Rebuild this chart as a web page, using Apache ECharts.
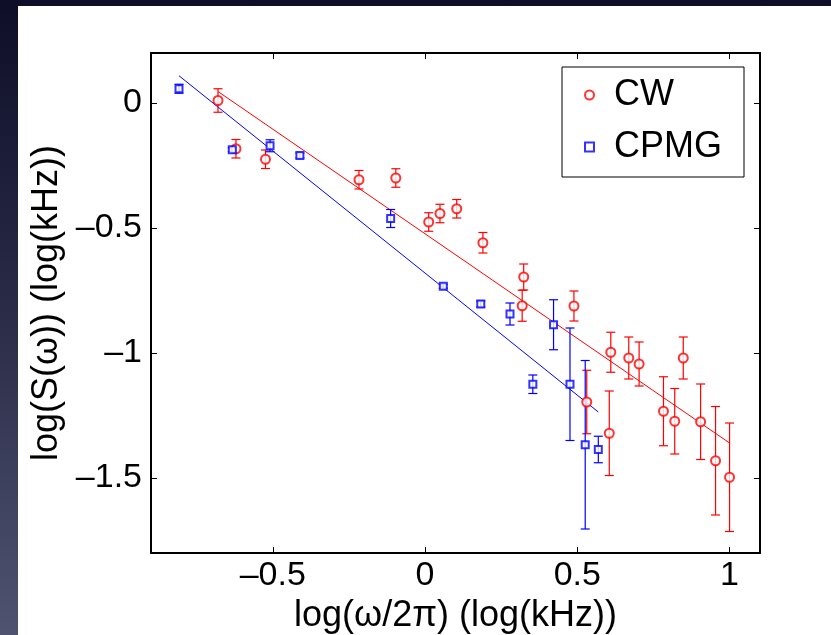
<!DOCTYPE html>
<html>
<head>
<meta charset="utf-8">
<script src="https://cdn.jsdelivr.net/npm/echarts@6/dist/echarts.min.js"></script>
<style>
  html, body { margin:0; padding:0; width:831px; height:635px; overflow:hidden;
    background: linear-gradient(to bottom, #0e0e28 0%, #2a2c48 50%, #505370 100%); }
  #panel { position:absolute; left:18px; top:6px; right:0; bottom:0; background:#fff; }
  #chart { position:absolute; left:0; top:0; width:831px; height:635px; }
</style>
</head>
<body>
<div id="panel"></div>
<div id="chart"></div>
<script>
// CW data (red circles)
const cwX   = [-0.680, -0.621, -0.524, -0.217, -0.096, 0.012, 0.049, 0.104, 0.190, 0.319, 0.324, 0.489, 0.531, 0.605, 0.610, 0.669, 0.703, 0.783, 0.820, 0.848, 0.905, 0.954, 1.000];
const cwY   = [0.010, -0.183, -0.225, -0.307, -0.300, -0.476, -0.442, -0.423, -0.559, -0.811, -0.696, -0.812, -1.196, -1.321, -0.997, -1.020, -1.044, -1.233, -1.273, -1.020, -1.275, -1.431, -1.497];
const cwErr = [0.047, 0.037, 0.037, 0.037, 0.037, 0.037, 0.037, 0.037, 0.041, 0.062, 0.052, 0.060, 0.127, 0.169, 0.080, 0.084, 0.088, 0.138, 0.131, 0.084, 0.151, 0.217, 0.217];
// CPMG data (blue squares)
const cpmgX   = [-0.808, -0.633, -0.509, -0.411, -0.113, 0.060, 0.183, 0.279, 0.354, 0.422, 0.476, 0.526, 0.569];
const cpmgY   = [0.057, -0.187, -0.171, -0.210, -0.462, -0.733, -0.804, -0.844, -1.125, -0.887, -1.125, -1.367, -1.386];
const cpmgErr = [0.018, 0.008, 0.024, 0.010, 0.036, 0.008, 0.012, 0.044, 0.037, 0.100, 0.225, 0.337, 0.053];
// Fit lines (end points)
const cwFitX = [-0.680, 1.000];
const cwFitY = [0.046, -1.360];
const cpmgFitX = [-0.808, 0.569];
const cpmgFitY = [0.109, -1.236];
// Axis ticks
const xTicks = [-0.5, 0, 0.5, 1];
const yTicks = [-1.5, -1, -0.5, 0];

const FONT = "'Liberation Sans', Arial, Helvetica, sans-serif";
const RED = '#ff0000', BLUE = '#0000ff';

function fmt(v) { return v < 0 ? '\u2013' + String(-v) : String(v); }

function errBars(color) {
  return function (params, api) {
    const x = api.value(0), y = api.value(1), e = api.value(2);
    const t = api.coord([x, y + e]);
    const b = api.coord([x, y - e]);
    const w = 4.5;
    const st = { stroke: color, lineWidth: 1.2 };
    return { type: 'group', children: [
      { type: 'line', shape: { x1: t[0], y1: t[1], x2: b[0], y2: b[1] }, style: st },
      { type: 'line', shape: { x1: t[0] - w, y1: t[1], x2: t[0] + w, y2: t[1] }, style: st },
      { type: 'line', shape: { x1: b[0] - w, y1: b[1], x2: b[0] + w, y2: b[1] }, style: st }
    ]};
  };
}

const axisCommon = {
  type: 'value',
  splitLine: { show: false },
  axisLine: { show: true, onZero: false, lineStyle: { color: '#000', width: 2 } },
  axisTick: { show: true, inside: true, length: 6, lineStyle: { color: '#000', width: 1 } }
};

const chart = echarts.init(document.getElementById('chart'), null, { renderer: 'canvas' });
chart.setOption({
  backgroundColor: 'transparent',
  animation: false,
  textStyle: { fontFamily: FONT },
  grid: { left: 151, right: 71, top: 53, bottom: 82, containLabel: false, outerBoundsMode: 'none' },
  legend: {
    orient: 'vertical', left: 562, top: 67,
    padding: [10, 22, 12, 22], itemGap: 16,
    itemWidth: 9, itemHeight: 9,
    borderColor: '#000', borderWidth: 1, backgroundColor: '#fff',
    textStyle: { fontSize: 36, color: '#000', fontFamily: FONT, lineHeight: 36, padding: [0, 0, 0, 15] },
    data: ['CW', 'CPMG']
  },
  xAxis: [
    Object.assign({}, axisCommon, {
      min: -0.9, max: 1.1, position: 'bottom',
      axisTick: Object.assign({}, axisCommon.axisTick, { customValues: xTicks }),
      axisLabel: { customValues: xTicks, formatter: fmt, fontSize: 34, color: '#000', margin: 6, fontFamily: FONT },
      name: 'log(\u03c9/2\u03c0) (log(kHz))', nameLocation: 'middle', nameGap: 30,
      nameTextStyle: { fontSize: 36, color: '#000', fontFamily: FONT }
    }),
    Object.assign({}, axisCommon, {
      min: -0.9, max: 1.1, position: 'top',
      axisTick: Object.assign({}, axisCommon.axisTick, { customValues: xTicks }),
      axisLabel: { show: false }
    })
  ],
  yAxis: [
    Object.assign({}, axisCommon, {
      min: -1.8, max: 0.2, position: 'left',
      axisTick: Object.assign({}, axisCommon.axisTick, { customValues: yTicks }),
      axisLabel: { customValues: yTicks, formatter: fmt, fontSize: 34, color: '#000', margin: 9, fontFamily: FONT },
      name: 'log(S(\u03c9)) (log(kHz))', nameLocation: 'middle', nameGap: 80,
      nameTextStyle: { fontSize: 36, color: '#000', fontFamily: FONT }
    }),
    Object.assign({}, axisCommon, {
      min: -1.8, max: 0.2, position: 'right',
      axisTick: Object.assign({}, axisCommon.axisTick, { customValues: yTicks }),
      axisLabel: { show: false }
    })
  ],
  series: [
    { name: 'CW fit', type: 'line', data: cwFitX.map((x, i) => [x, cwFitY[i]]), showSymbol: false, symbol: 'none',
      lineStyle: { color: RED, width: 1 }, z: 1 },
    { name: 'CPMG fit', type: 'line', data: cpmgFitX.map((x, i) => [x, cpmgFitY[i]]), showSymbol: false, symbol: 'none',
      lineStyle: { color: BLUE, width: 1 }, z: 1 },
    { name: 'CW err', type: 'custom', renderItem: errBars(RED), encode: { x: 0, y: 1 },
      data: cwX.map((x, i) => [x, cwY[i], cwErr[i]]), z: 2 },
    { name: 'CPMG err', type: 'custom', renderItem: errBars(BLUE), encode: { x: 0, y: 1 },
      data: cpmgX.map((x, i) => [x, cpmgY[i], cpmgErr[i]]), z: 2 },
    { name: 'CW', type: 'scatter', symbol: 'emptyCircle', symbolSize: 9,
      itemStyle: { color: RED, borderColor: RED, borderWidth: 1.2 },
      data: cwX.map((x, i) => [x, cwY[i]]), z: 3 },
    { name: 'CPMG', type: 'scatter', symbol: 'emptyRect', symbolSize: 7,
      itemStyle: { color: BLUE, borderColor: BLUE, borderWidth: 1.2 },
      data: cpmgX.map((x, i) => [x, cpmgY[i]]), z: 3 }
  ]
});
</script>
</body>
</html>
